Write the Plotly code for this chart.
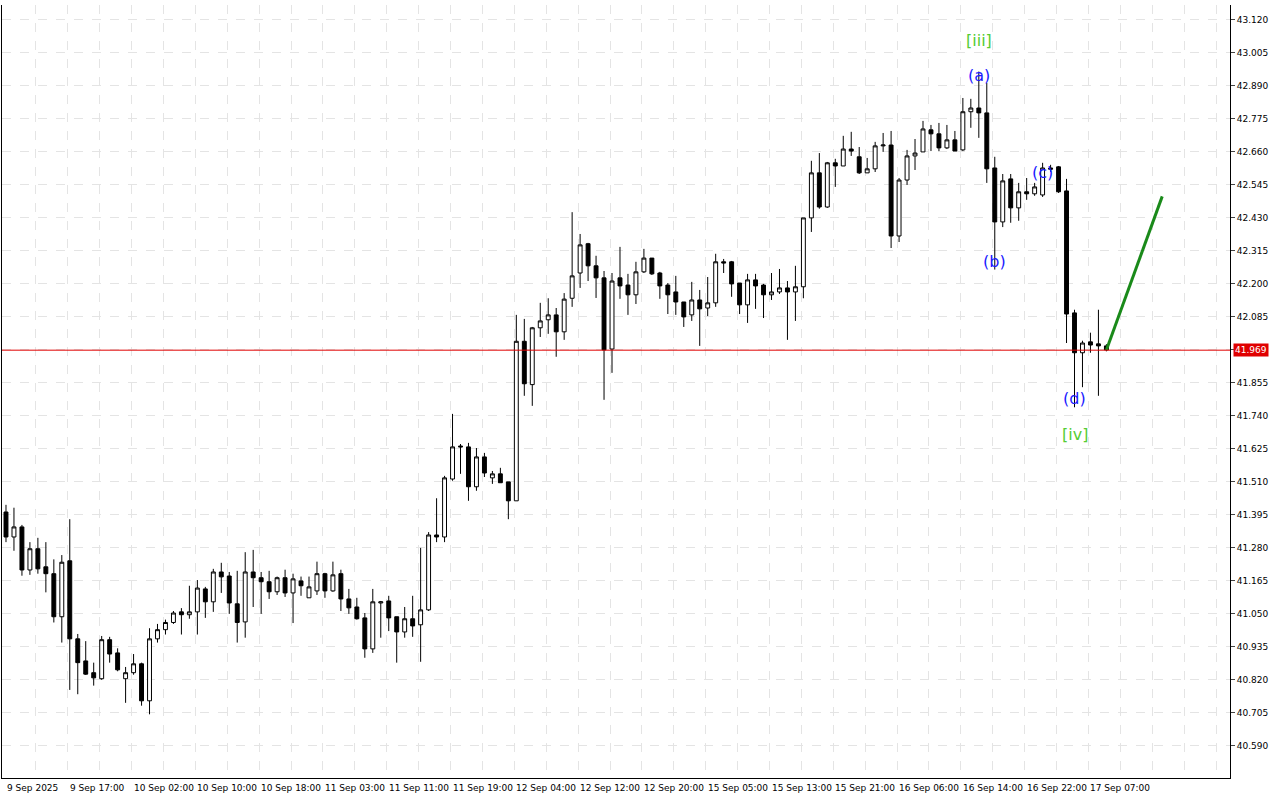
import plotly.graph_objects as go

opens = [41.405,41.318,41.353,41.203,41.277,41.214,41.19,41.04,41.235,40.963,
40.886,40.845,40.824,40.96,40.914,40.824,40.845,40.876,40.747,40.963,
40.995,41.02,41.057,41.047,41.057,41.137,41.092,41.196,41.182,41.085,
41.022,41.196,41.176,41.162,41.127,41.176,41.123,41.165,41.106,41.13,
41.19,41.13,41.19,41.102,41.074,41.036,40.928,41.088,41.095,41.04,
40.987,41.033,41.012,41.064,41.325,41.318,41.52,41.635,41.632,41.493,
41.597,41.524,41.538,41.51,41.444,42.0,41.849,42.047,42.075,42.092,
42.033,42.15,42.238,42.34,42.263,42.221,41.973,42.221,42.196,42.162,
42.242,42.29,42.238,42.196,42.172,42.137,42.092,42.144,42.116,42.134,
42.277,42.277,42.203,42.127,42.214,42.196,42.162,42.172,42.186,42.172,
42.19,42.43,42.587,42.468,42.622,42.611,42.67,42.643,42.587,42.601,
42.681,42.684,42.367,42.562,42.646,42.66,42.737,42.723,42.674,42.702,
42.667,42.8,42.813,42.796,42.604,42.416,42.566,42.465,42.521,42.514,
42.51,42.604,42.608,42.524,42.099,41.96,41.998,41.991,41.984]
closes = [41.318,41.353,41.203,41.277,41.207,41.19,41.04,41.23,40.963,40.88,
40.84,40.827,40.96,40.91,40.855,40.845,40.876,40.747,40.963,40.995,
41.02,41.053,41.047,41.057,41.14,41.092,41.196,41.179,41.088,41.02,
41.196,41.176,41.162,41.127,41.176,41.123,41.172,41.148,41.144,41.19,
41.13,41.186,41.102,41.071,41.033,40.928,41.092,41.092,41.036,40.987,
41.033,41.008,41.064,41.325,41.318,41.524,41.632,41.632,41.493,41.597,
41.541,41.538,41.507,41.444,42.0,41.852,42.047,42.071,42.092,42.033,
42.147,42.228,42.336,42.263,42.221,41.97,42.21,42.193,42.162,42.242,
42.29,42.235,42.193,42.162,42.137,42.085,42.144,42.113,42.134,42.277,
42.273,42.2,42.127,42.214,42.193,42.162,42.172,42.186,42.172,42.19,
42.43,42.587,42.468,42.622,42.611,42.67,42.663,42.587,42.601,42.681,
42.684,42.367,42.562,42.646,42.656,42.74,42.723,42.674,42.702,42.663,
42.8,42.813,42.796,42.601,42.416,42.559,42.465,42.521,42.514,42.538,
42.604,42.60,42.521,42.095,41.96,41.994,41.987,41.984,41.970]
highs = [41.43,41.42,41.36,41.30,41.315,41.30,41.24,41.255,41.38,40.98,
40.955,40.88,40.973,40.97,40.93,40.865,40.91,40.88,41.00,41.015,
41.03,41.06,41.07,41.148,41.168,41.144,41.207,41.228,41.196,41.2,
41.265,41.273,41.196,41.2,41.18,41.204,41.19,41.18,41.18,41.232,
41.193,41.232,41.204,41.137,41.106,41.053,41.137,41.095,41.113,41.04,
41.074,41.113,41.28,41.335,41.453,41.531,41.747,41.642,41.646,41.628,
41.611,41.548,41.559,41.51,42.092,42.078,42.05,42.134,42.15,42.116,
42.168,42.45,42.374,42.343,42.298,42.245,42.238,42.329,42.235,42.277,
42.322,42.29,42.242,42.203,42.228,42.137,42.207,42.179,42.224,42.305,
42.287,42.28,42.203,42.235,42.235,42.2,42.238,42.252,42.21,42.263,
42.43,42.629,42.656,42.625,42.636,42.716,42.73,42.677,42.639,42.695,
42.726,42.733,42.569,42.667,42.705,42.768,42.754,42.761,42.754,42.733,
42.848,42.845,42.94,42.90,42.643,42.583,42.583,42.552,42.569,42.552,
42.622,42.615,42.611,42.566,42.11,42.002,42.03,42.11,41.99]
lows = [41.30,41.27,41.183,41.186,41.19,41.125,41.02,40.95,40.785,40.77,
40.837,40.80,40.82,40.88,40.85,40.74,40.838,40.73,40.70,40.95,
40.978,41.015,40.978,41.033,40.978,41.036,41.057,41.123,41.05,40.95,
40.967,41.074,41.05,41.102,41.116,41.109,41.018,41.113,41.106,41.116,
41.106,41.127,41.06,41.05,41.03,40.897,40.914,40.967,40.99,40.88,
40.967,40.97,40.883,41.06,41.30,41.30,41.514,41.538,41.444,41.479,
41.527,41.503,41.507,41.38,41.444,41.81,41.775,42.015,42.026,41.946,
42.005,42.12,42.186,42.21,42.151,41.796,41.89,42.148,42.092,42.130,
42.238,42.231,42.148,42.095,42.092,42.05,42.071,41.984,42.088,42.12,
42.238,42.155,42.095,42.064,42.113,42.081,42.144,42.165,42.005,42.071,
42.15,42.381,42.462,42.465,42.538,42.611,42.646,42.583,42.587,42.59,
42.66,42.325,42.346,42.545,42.597,42.66,42.663,42.663,42.67,42.663,
42.663,42.744,42.709,42.552,42.25,42.398,42.413,42.42,42.493,42.507,
42.503,42.59,42.517,41.994,41.77,41.84,41.96,41.81,41.965]

x_labels = ["9 Sep 2025","9 Sep 17:00","10 Sep 02:00","10 Sep 10:00","10 Sep 18:00",
"11 Sep 03:00","11 Sep 11:00","11 Sep 19:00","12 Sep 04:00","12 Sep 12:00",
"12 Sep 20:00","15 Sep 05:00","15 Sep 13:00","15 Sep 21:00","16 Sep 06:00",
"16 Sep 14:00","16 Sep 22:00","17 Sep 07:00"]
price_ticks = [40.590,40.705,40.820,40.935,41.050,41.165,41.280,41.395,41.510,41.625,
41.740,41.855,41.970,42.085,42.200,42.315,42.430,42.545,42.660,42.775,42.890,43.005,43.120]
current_price = 41.969
forecast_x = [138, 145]
forecast_y = [41.970, 42.505]
wave_labels = [("[iii]",122,43.05,"#55cc33"),("(a)",122,42.925,"#1a1aff"),
               ("(b)",124,42.277,"#1a1aff"),("(c)",130,42.59,"#1a1aff"),
               ("(d)",134,41.80,"#1a1aff"),("[iv]",134,41.674,"#55cc33")]

idx = list(range(len(opens)))
fig = go.Figure()
fig.add_trace(go.Candlestick(x=idx, open=opens, high=highs, low=lows, close=closes,
    increasing=dict(fillcolor="white", line=dict(color="black", width=1)),
    decreasing=dict(fillcolor="black", line=dict(color="black", width=1)),
    whiskerwidth=0, showlegend=False, hoverinfo="skip"))
fig.add_trace(go.Scatter(x=forecast_x, y=forecast_y, mode="lines",
    line=dict(color="#1a8a1a", width=3), showlegend=False, hoverinfo="skip"))

fig.add_shape(type="line", xref="paper", x0=0, x1=1, y0=current_price, y1=current_price,
              line=dict(color="#e00000", width=1))
fig.add_annotation(xref="paper", x=1.0, y=current_price, text="41.969", showarrow=False,
                   xanchor="left", xshift=3, bgcolor="#e00000",
                   font=dict(color="white", size=9, family="DejaVu Sans"), borderpad=1)
for t, xi, yv, c in wave_labels:
    fig.add_annotation(x=xi, y=yv, text=t, showarrow=False,
                       font=dict(color=c, size=16, family="DejaVu Sans"))

grid_x = [3.75 + 4*k for k in range(39)]
for i, lab in enumerate(x_labels):
    xi = -0.1 if i == 0 else 7.75 + 8*(i-1)
    fig.add_annotation(x=xi, y=-0.004, yref="paper", text=lab, showarrow=False,
                       xanchor="left", yanchor="top",
                       font=dict(size=9, family="DejaVu Sans", color="black"))

ticktext = ["" if abs(v - current_price) < 0.01 else f"{v:.3f}" for v in price_ticks]
fig.update_layout(width=1280, height=800, plot_bgcolor="white", paper_bgcolor="white",
    margin=dict(l=2, r=50, t=5, b=22),
    xaxis=dict(range=[-0.5, 153.5], tickvals=grid_x, showticklabels=False,
               showgrid=True, gridcolor="#e4e4e4", griddash="dash", zeroline=False,
               showline=True, linecolor="black", rangeslider=dict(visible=False), fixedrange=True),
    yaxis=dict(side="right", range=[40.478, 43.172], tickvals=price_ticks,
               ticktext=ticktext, ticks="outside", ticklen=4,
               showgrid=True, gridcolor="#e4e4e4", griddash="dash", zeroline=False,
               showline=True, linecolor="black", mirror=True,
               tickfont=dict(size=9, family="DejaVu Sans", color="black")))
html = fig.to_html(full_html=True, include_plotlyjs=True, config={"displayModeBar": False})
html = html.replace("<body>", '<body style="margin:0;overflow:hidden">', 1)
with open("out.html", "w", encoding="utf-8") as f:
    f.write(html)
